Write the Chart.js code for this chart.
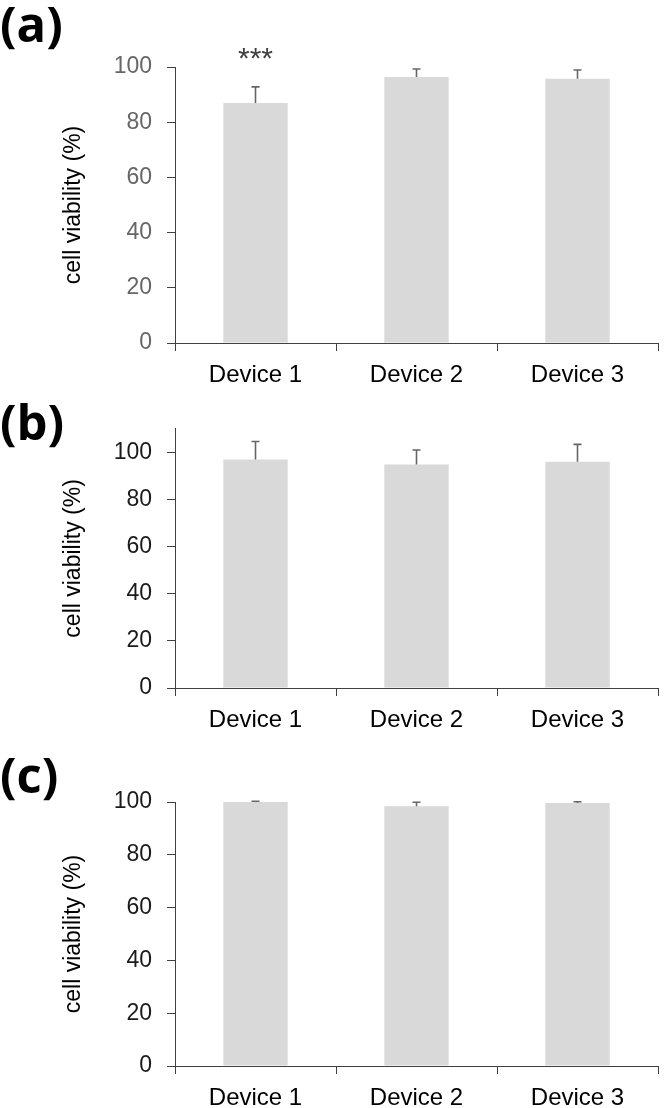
<!DOCTYPE html>
<html><head><meta charset="utf-8">
<script src="https://cdn.jsdelivr.net/npm/chart.js@4.4.1/dist/chart.umd.min.js"></script>
<style>
html,body{margin:0;padding:0;background:#fff;}
body{width:666px;height:1108px;position:relative;overflow:hidden;}
canvas{position:absolute;left:0;}
.lbl{position:absolute;left:0;font-family:"Open Sans",sans-serif;font-weight:700;font-size:49px;line-height:49px;color:#000;z-index:2;}
</style></head><body>
<canvas id="ca" width="666" height="400" style="top:0px"></canvas>
<canvas id="cb" width="666" height="340" style="top:400px"></canvas>
<canvas id="cc" width="666" height="368" style="top:740px"></canvas>
<div class="lbl" style="top:-1px">(a)</div>
<div class="lbl" style="top:397px">(b)</div>
<div class="lbl" style="top:750px">(c)</div>
<script>
const categories = ['Device 1', 'Device 2', 'Device 3'];
const yTicks = [0, 20, 40, 60, 80, 100];
const viabilityA = [87.0, 96.4, 95.7];
const errorA = [5.8, 2.9, 3.2];
const signifA = ['***', '', ''];
const viabilityB = [97.0, 94.8, 96.0];
const errorB = [7.6, 6.2, 7.4];
const viabilityC = [100.0, 98.4, 99.6];
const errorC = [0.3, 1.5, 0.5];
const yTitle = 'cell viability (%)';

const FONT = '"Liberation Sans", Arial, sans-serif';

const errorBarPlugin = {
  id: 'errorBars',
  afterDatasetsDraw(chart) {
    const ctx = chart.ctx;
    const ys = chart.scales.y;
    chart.data.datasets.forEach((ds, di) => {
      const meta = chart.getDatasetMeta(di);
      meta.data.forEach((el, i) => {
        const v = ds.data[i], e = ds.errors[i];
        const yTop = ys.getPixelForValue(v + e);
        ctx.save();
        ctx.strokeStyle = '#666666';
        ctx.lineWidth = 1.6;
        ctx.beginPath();
        ctx.moveTo(el.x, el.y);
        ctx.lineTo(el.x, yTop);
        ctx.moveTo(el.x - 4, yTop);
        ctx.lineTo(el.x + 4, yTop);
        ctx.stroke();
        if (ds.marks && ds.marks[i]) {
          ctx.fillStyle = '#404040';
          ctx.font = '30px ' + FONT;
          ctx.textAlign = 'center';
          ctx.textBaseline = 'middle';
          ctx.fillText(ds.marks[i], el.x, yTop - 27);
        }
        ctx.restore();
      });
    });
  }
};

function makeChart(id, values, errors, marks, o) {
  return new Chart(document.getElementById(id), {
    type: 'bar',
    data: {
      labels: categories,
      datasets: [{
        data: values,
        errors: errors,
        marks: marks,
        backgroundColor: '#d9d9d9',
        borderWidth: 0,
        barPercentage: 0.8,
        categoryPercentage: 0.5
      }]
    },
    options: {
      responsive: false,
      animation: false,
      devicePixelRatio: 1,
      layout: { padding: { top: o.padTop, left: 60, right: 8, bottom: 0 } },
      plugins: { legend: { display: false }, tooltip: { enabled: false } },
      scales: {
        x: {
          afterFit: s => { s.height = o.xH; },
          border: { display: true, color: '#404040', width: 1 },
          grid: { display: true, drawOnChartArea: false, drawTicks: true, tickLength: 8, tickColor: '#404040', offset: true },
          ticks: { color: '#000', font: { family: FONT, size: 24 }, padding: 10, maxRotation: 0 }
        },
        y: {
          min: 0, max: o.max,
          afterBuildTicks: s => { s.ticks = yTicks.map(v => ({ value: v })); },
          afterFit: s => { s.width = 115; },
          border: { display: true, color: '#404040', width: 1 },
          grid: { display: true, drawOnChartArea: false, drawTicks: true, tickLength: 8, tickColor: '#404040' },
          ticks: { color: o.tickColor, font: { family: FONT, size: 23 }, padding: 15 },
          title: { display: true, text: yTitle, color: '#000', font: { family: FONT, size: 23 }, padding: { top: 0, bottom: 0 } }
        }
      }
    },
    plugins: [errorBarPlugin]
  });
}

makeChart('ca', viabilityA, errorA, signifA, { padTop: 67, xH: 57, max: 100, tickColor: '#666666' });
makeChart('cb', viabilityB, errorB, null, { padTop: 22, xH: 52, max: 110, tickColor: '#1a1a1a' });
makeChart('cc', viabilityC, errorC, null, { padTop: 62, xH: 42, max: 100, tickColor: '#1a1a1a' });
</script>
</body></html>
